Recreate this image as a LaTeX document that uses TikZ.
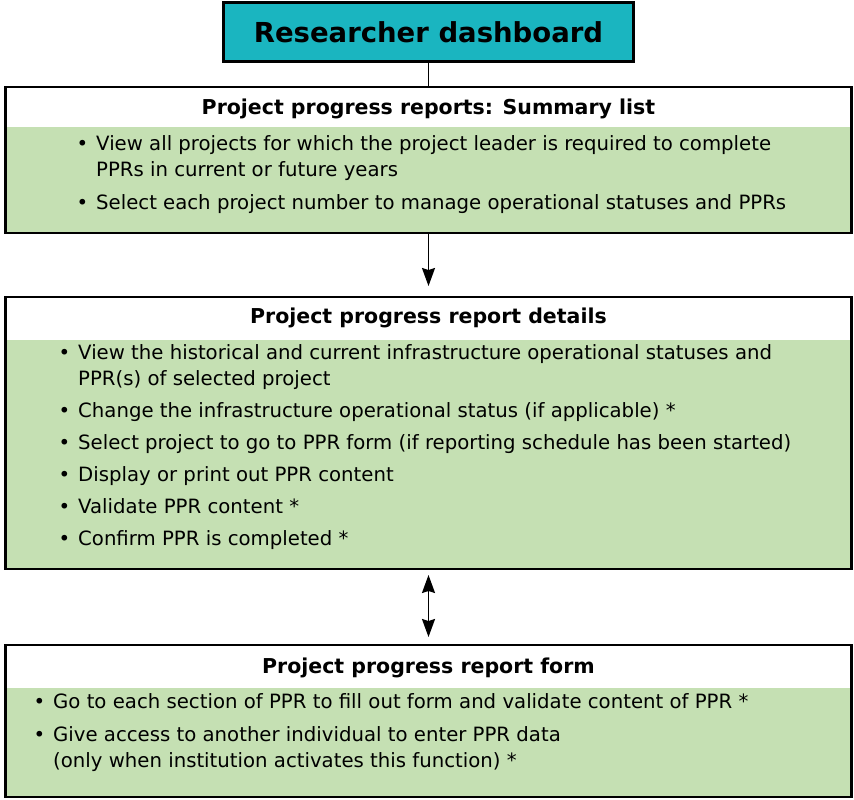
\documentclass[tikz,border=0pt]{standalone}
\usepackage{fontspec}
\setmainfont{DejaVu Sans}
\usetikzlibrary{arrows.meta}
\definecolor{dashteal}{RGB}{26,181,192}
\definecolor{boxgreen}{RGB}{197,224,179}
\newcommand{\bul}{\llap{\textbullet\hspace{8pt}}}

\begin{document}
\begin{tikzpicture}[x=1pt,y=-1pt,
    >={Stealth[length=18pt,width=13pt,inset=2pt]},
    box/.style={draw, line width=2.8pt, fill=boxgreen, minimum width=846pt, inner sep=0pt, outer sep=0pt},
    head/.style={font=\fontsize{20.5}{24}\selectfont\bfseries, inner sep=0pt},
    item/.style={anchor=mid west, align=left, inner sep=0pt, font=\fontsize{19.7}{26}\selectfont},
    link/.style={line width=1.8pt}]
            \useasboundingbox (0,0) rectangle (854,800);

            % boxes
            \node[box, fill=dashteal, minimum width=410pt, minimum height=59pt] (dash) at (428.5,32) {};
            \node[font=\fontsize{27.5}{32}\selectfont\bfseries] (dashtxt) at (dash) {Researcher dashboard};
            \node[box, minimum height=146pt] (sumlist) at (428.5,160) {};
            \node[box, minimum height=272pt] (details) at (428.5,433) {};
            \node[box, minimum height=152pt] (form) at (428.5,721) {};

            % white headers
            \fill[white] (sumlist.north west) rectangle ([yshift=-40pt]sumlist.north east);
            \fill[white] (details.north west) rectangle ([yshift=-43pt]details.north east);
            \fill[white] (form.north west) rectangle ([yshift=-43pt]form.north east);
            \draw[line width=2.8pt] (sumlist.north west) rectangle (sumlist.south east);
            \draw[line width=2.8pt] (details.north west) rectangle (details.south east);
            \draw[line width=2.8pt] (form.north west) rectangle (form.south east);

            \node[head] (sumhead) at ([yshift=-22pt]sumlist.north) {Project progress reports: Summary list};
            \node[head] (dethead) at ([yshift=-21pt]details.north) {Project progress report details};
            \node[head] (formhead) at ([yshift=-23pt]form.north) {Project progress report form};

            % connectors
            \draw[link] (dash) -- (sumlist);
            \draw[link, ->, shorten >=11pt] (sumlist) -- (details);
            \draw[link, <->, shorten <=6pt, shorten >=8pt] (details) -- (form);

            % summary list items (two-line nodes are placed by their last line)
            \node[item] (s1) at (96,174) {\bul View all projects for which the project leader is required to complete\\PPRs in current or future years};
            \node[item] (s2) at (96,207) {\bul Select each project number to manage operational statuses and PPRs};

            % details items
            \node[item] (d1) at (78,383) {\bul View the historical and current infrastructure operational statuses and\\PPR(s) of selected project};
            \node[item] (d2) at (78,415) {\bul Change the infrastructure operational status (if applicable) *};
            \node[item] (d3) at (78,447) {\bul Select project to go to PPR form (if reporting schedule has been started)};
            \node[item] (d4) at (78,479) {\bul Display or print out PPR content};
            \node[item] (d5) at (78,511) {\bul Validate PPR content *};
            \node[item] (d6) at (78,543) {\bul Confirm PPR is completed *};

            % form items
            \node[item] (f1) at (53,706) {\bul Go to each section of PPR to fill out form and validate content of PPR *};
            \node[item] (f2) at (53,765) {\bul Give access to another individual to enter PPR data\\(only when institution activates this function) *};

\end{tikzpicture}
\end{document}
